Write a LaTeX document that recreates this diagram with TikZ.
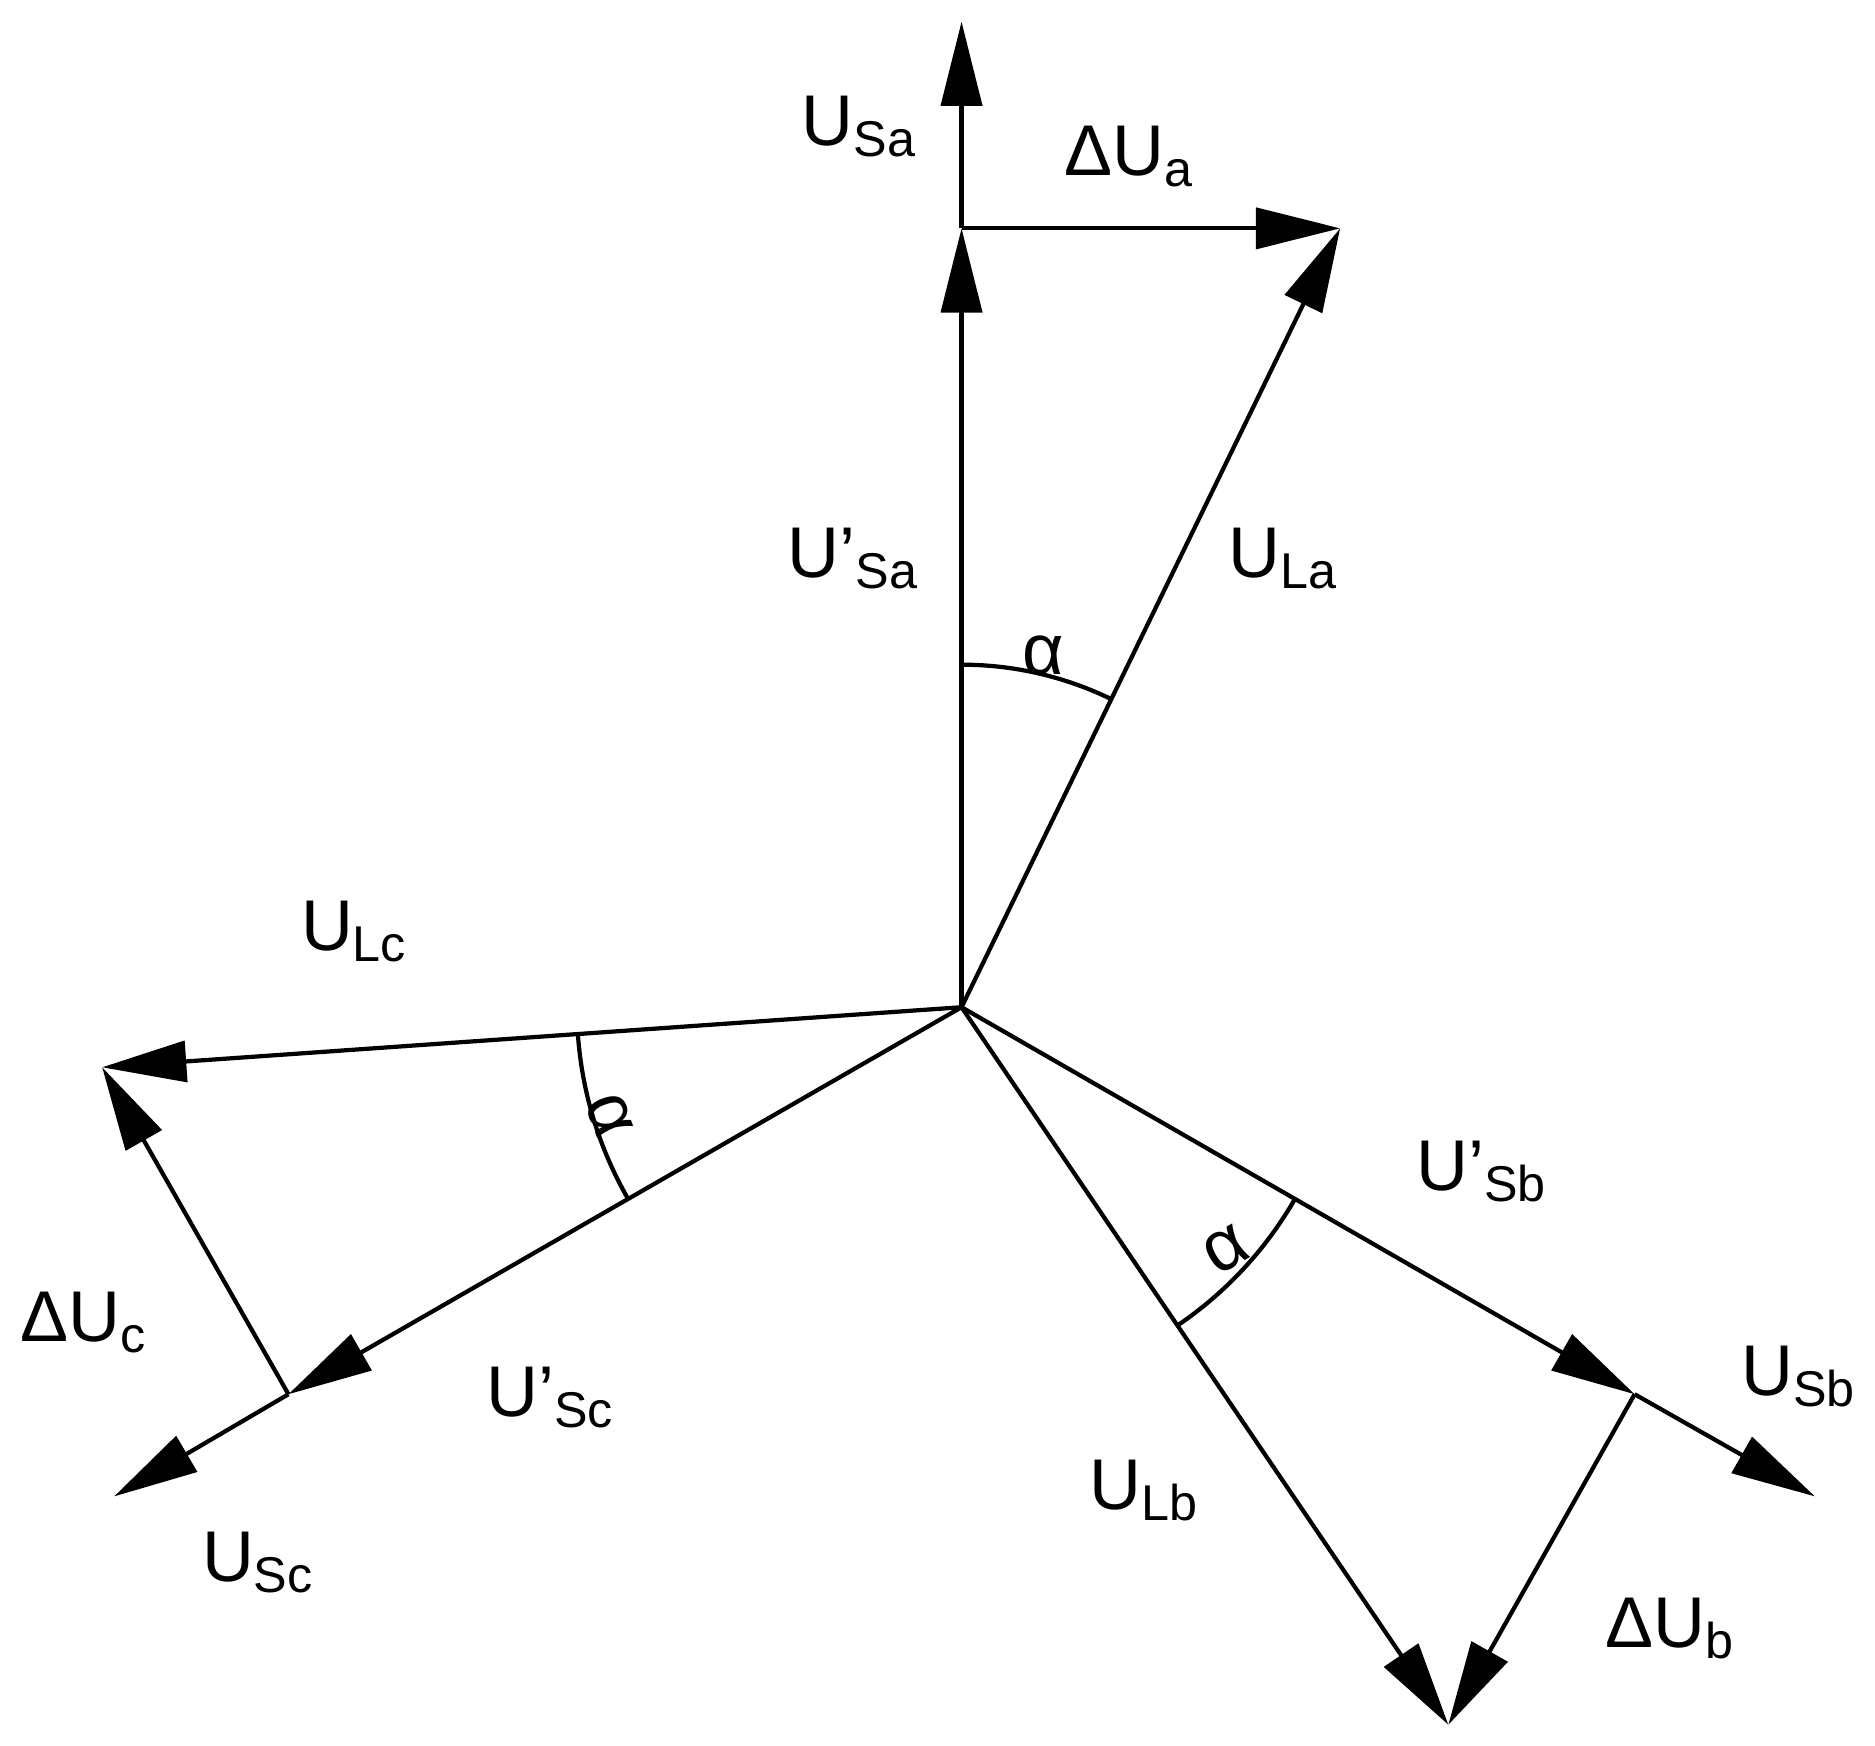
\documentclass[tikz,border=0pt]{standalone}
\usepackage{fontspec}
\setmainfont{Liberation Sans}
\usetikzlibrary{arrows.meta,calc}
\begin{document}
\begin{tikzpicture}[x=0.01cm,y=-0.01cm,
  vec/.style={line width=1pt,-{Triangle[length=0.7cm,width=0.34cm]}},
  ln/.style={line width=1pt},
  lab/.style={font=\fontsize{17}{20}\selectfont,inner sep=0pt}]
\useasboundingbox (0,0) rectangle (1560,1452);
\coordinate (O) at (800,838);
\coordinate (Sa) at (800,18);
\coordinate (Spa) at (800,190);
\coordinate (La) at (1115,190);
\coordinate (Lc) at (85,888);
\coordinate (Spc) at (240,1160);
\coordinate (Sc) at (95,1245);
\coordinate (Spb) at (1360,1160);
\coordinate (Sb) at (1510,1245);
\coordinate (Lb) at (1205,1435);
\draw[vec] (Spa) -- (Sa);
\draw[vec] (O) -- (Spa);
\draw[vec] (Spa) -- (La);
\draw[vec] (O) -- (La);
\draw[vec] (O) -- (Lc);
\draw[vec] (O) -- (Spc);
\draw[vec] (Spc) -- (Sc);
\draw[vec] (Spc) -- (Lc);
\draw[vec] (O) -- (Spb);
\draw[vec] (Spb) -- (Sb);
\draw[vec] (O) -- (Lb);
\draw[vec] (Spb) -- (Lb);
\draw[ln] ($(O)+(-90:285)$) arc[start angle=-90,end angle=-64,radius=285];
\draw[ln] ($(O)+(150:320)$) arc[start angle=150,end angle=176,radius=320];
\draw[ln] ($(O)+(30:320)$) arc[start angle=30,end angle=56,radius=320];
\node[lab] (tSa) at (715,105) {U\textsubscript{Sa}};
\node[lab] (tdUa) at (940,130) {ΔU\textsubscript{a}};
\node[lab] (tSpa) at (710,465) {U'\textsubscript{Sa}};
\node[lab] (tLa) at (1068,465) {U\textsubscript{La}};
\node[lab] (ta1) at (868,545) {α};
\node[lab] (tLc) at (295,775) {U\textsubscript{Lc}};
\node[lab,rotate=-70] (ta2) at (507,928) {α};
\node[lab] (tdUc) at (70,1100) {ΔU\textsubscript{c}};
\node[lab] (tSpc) at (458,1163) {U'\textsubscript{Sc}};
\node[lab] (tSc) at (215,1300) {U\textsubscript{Sc}};
\node[lab] (tSpb) at (1233,975) {U'\textsubscript{Sb}};
\node[lab,rotate=30] (ta3) at (1020,1040) {α};
\node[lab] (tSb) at (1497,1145) {U\textsubscript{Sb}};
\node[lab] (tLb) at (952,1240) {U\textsubscript{Lb}};
\node[lab] (tdUb) at (1390,1355) {ΔU\textsubscript{b}};
\end{tikzpicture}
\end{document}
